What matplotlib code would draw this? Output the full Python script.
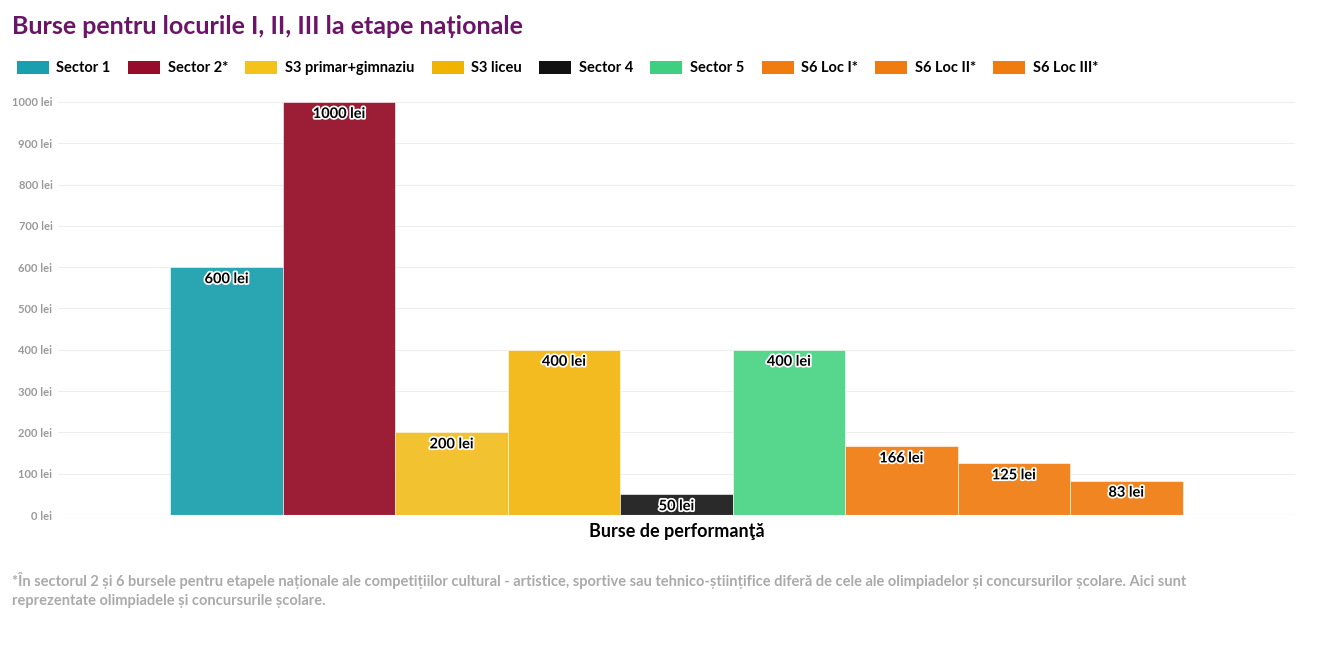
import matplotlib
matplotlib.use("Agg")
import matplotlib.pyplot as plt
import matplotlib.patheffects as pe
from matplotlib.patches import Patch

plt.rcParams['font.family'] = ['Lato', 'DejaVu Sans']

series = ["Sector 1", "Sector 2*", "S3 primar+gimnaziu", "S3 liceu", "Sector 4",
          "Sector 5", "S6 Loc I*", "S6 Loc II*", "S6 Loc III*"]
values = [600, 1000, 200, 400, 50, 400, 166, 125, 83]
bar_colors = ["#2aa6b3", "#9c1e36", "#f3c230", "#f3bb1f", "#2a2a2a",
              "#57d68e", "#f08522", "#f08522", "#f08522"]
legend_colors = ["#1a9fae", "#970c2b", "#f5c21a", "#f0b400", "#111111",
                 "#3ecf80", "#f07c10", "#f07c10", "#f07c10"]
yticks = [0, 100, 200, 300, 400, 500, 600, 700, 800, 900, 1000]

fig = plt.figure(figsize=(13.21, 6.5), dpi=100)
ax = fig.add_axes([58/1321, 1-515/650, 1237/1321, 413/650])
for i, (v, c) in enumerate(zip(values, bar_colors)):
    ax.bar(i, v, width=1.0, color=c, edgecolor='white', linewidth=0.4, zorder=2)
    ax.text(i, v - 12, f"{v} lei", ha='center', va='top', fontsize=10.5,
            fontweight='bold', color='black', zorder=3,
            path_effects=[pe.withStroke(linewidth=2.5, foreground='white')])
ax.set_xlim(-1.5, 9.5)
ax.set_ylim(0, 1000)
ax.set_yticks(yticks)
ax.set_yticklabels([f"{t} lei" for t in yticks], fontsize=8, fontweight='bold', color='#999999')
ax.tick_params(axis='y', length=0, pad=4)
ax.set_xticks([])
ax.grid(axis='y', color='#eeeeee', linewidth=0.8, zorder=0)
for s in ax.spines.values():
    s.set_visible(False)
ax.axhline(0, color='#dddddd', linewidth=0.8)
ax.set_xlabel("Burse de performanţă", fontsize=13, fontweight='bold', labelpad=6)

fig.text(12/1321, 1-26/650, "Burse pentru locurile I, II, III la etape naționale",
         fontsize=18, fontweight='bold', color='#6b1468', va='center')

handles = [Patch(facecolor=c, label=s) for s, c in zip(series, legend_colors)]
fig.legend(handles=handles, loc='center left', bbox_to_anchor=(4/1321, 1-68/650),
           ncol=9, frameon=False, prop={'weight': 'bold', 'size': 10.5},
           handlelength=2.2, handleheight=1.0, columnspacing=1.2, handletextpad=0.5)

fig.text(12/1321, 1-590/650,
         "*În sectorul 2 și 6 bursele pentru etapele naționale ale competițiilor cultural - artistice, sportive sau tehnico-științifice diferă de cele ale olimpiadelor și concursurilor școlare. Aici sunt\nreprezentate olimpiadele și concursurile școlare.",
         fontsize=10.5, fontweight='bold', color='#aaaaaa', va='center', linespacing=1.4)

fig.savefig("out.png", dpi=100)
